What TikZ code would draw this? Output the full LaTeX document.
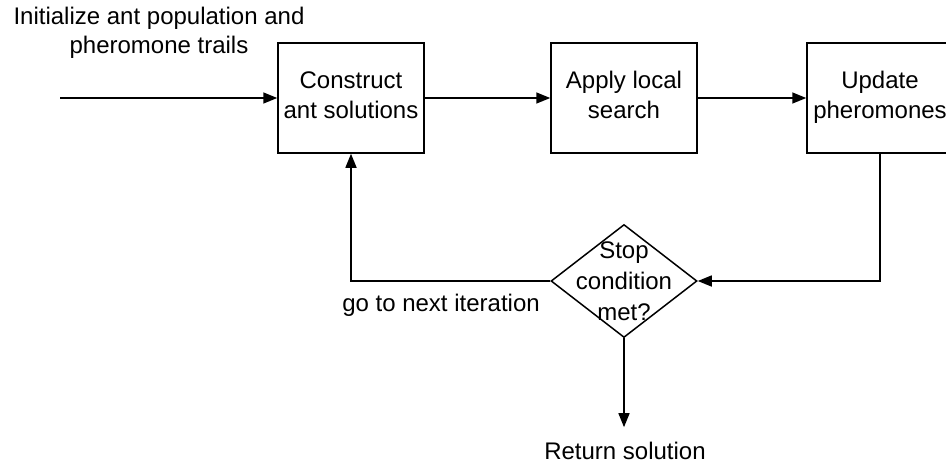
\documentclass[tikz,border=0pt]{standalone}
\usepackage{fontspec}
\setmainfont{Liberation Sans}
\usetikzlibrary{arrows.meta,shapes.geometric}

\tikzset{
  lbl/.style={font=\fontsize{24}{29.5}\selectfont, align=center, inner sep=0pt},
  stepbox/.style={draw, line width=1.5pt, minimum width=146pt, minimum height=110pt,
    inner sep=0pt, align=center, font=\fontsize{24}{29.5}\selectfont,
    execute at end node={\rule[-6pt]{0pt}{6pt}}},
  decision/.style={draw, diamond, line width=1.5pt, minimum width=146pt,
    minimum height=113pt, inner sep=0pt},
  arr/.style={line width=1.5pt, -{Triangle[length=14pt,width=11pt]}},
}

\begin{document}
\begin{tikzpicture}[x=1pt, y=-1pt]
  \useasboundingbox (0,0) rectangle (946,464);
  \clip (0,0) rectangle (946,464);

  % process steps
  \node[stepbox] (construct) at (351,98) {Construct\\ant solutions};
  \node[stepbox] (local)     at (624,98) {Apply local\\search};
  \node[stepbox] (update)    at (880,98) {Update\\pheromones};

  % termination test
  \node[decision] (stop) at (624,281) {};
  \node[lbl, font=\fontsize{24}{31}\selectfont] (stoptext) at (624,281) {Stop\\condition\\met?};

  % free labels
  \node[lbl] (init) at (159,33) {Initialize ant population and\\pheromone trails};
  \node[lbl] (next) at (441,305) {go to next iteration};
  \node[lbl, outer ysep=15pt] (ret) at (625,451) {Return solution};
  \coordinate (start) at (60,98);

  % connectors
  \draw[arr] (start) -- (construct);
  \draw[arr] (construct) -- (local);
  \draw[arr] (local) -- (update);
  \draw[arr] (update.south) |- (stop.east);
  \draw[arr] (stop.west) -| (construct.south);
  \draw[arr] (stop.south) -- (stop.south |- ret.north);
\end{tikzpicture}
\end{document}
